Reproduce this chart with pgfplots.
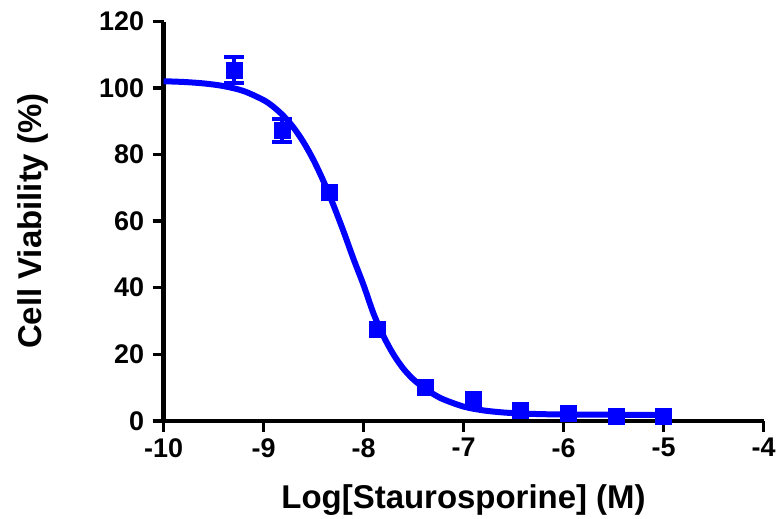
\documentclass[border=0pt]{standalone}
\usepackage{fontspec}
\setmainfont{Liberation Sans}
\usepackage{pgfplots}
\usepackage{pgfplotstable}
\pgfplotsset{compat=1.18}
\definecolor{prismblue}{RGB}{0,0,255}

% measured means with SEM (log molar concentration, 3-fold dilutions)
% SEM is only drawn where it is larger than the symbol
\pgfplotstableread{
x       y      e
-9.294  105.4  4.0
-8.817  87.3   3.4
}\measuredbars

\pgfplotstableread{
x       y
-8.340  68.6
-7.863  27.6
-7.386  10.1
-6.908  6.4
-6.431  3.1
-5.954  2.3
-5.477  1.4
-5.000  1.4
}\measured

% fitted dose-response curve
\pgfplotstableread{
x      y
-10.0  102.05
-9.8   101.83
-9.6   101.40
-9.4   100.60
-9.2   99.11
-9.0   96.39
-8.9   94.32
-8.8   91.60
-8.7   88.11
-8.6   83.71
-8.5   78.33
-8.4   71.96
-8.3   64.73
-8.2   56.90
-8.1   48.60
-8.0   40.80
-7.9   32.20
-7.8   25.40
-7.7   19.90
-7.6   15.60
-7.5   12.40
-7.4   10.00
-7.3   8.00
-7.2   6.43
-7.0   4.28
-6.8   3.12
-6.6   2.50
-6.4   2.17
-6.2   1.99
-6.0   1.90
-5.5   1.82
-5.0   1.80
}\fitted

\begin{document}
\begin{tikzpicture}
\begin{axis}[
  width=601pt, height=400pt, scale only axis,
  xmin=-10, xmax=-4, ymin=0, ymax=120,
  axis x line*=bottom, axis y line*=left,
  axis line style={line width=4.5pt},
  tick style={line width=3.5pt, black},
  tick align=outside, major tick length=11pt,
  xtick={-10,-9,-8,-7,-6,-5,-4},
  xticklabels={-10,-9,-8,-7,-6,-5,-4},
  ytick={0,20,40,60,80,100,120},
  yticklabels={0,20,40,60,80,100,120},
  ticklabel style={font=\fontsize{27}{32}\selectfont\bfseries},
  yticklabel style={xshift=-5pt, inner ysep=12pt},
  xticklabel style={yshift=-3pt, inner xsep=0.5pt},
  label style={font=\fontsize{33}{38}\selectfont\bfseries},
  xlabel={Log[Staurosporine] (M)},
  ylabel={Cell Viability (\%)},
  ylabel style={inner ysep=18pt},
  ylabel shift=29pt,
  xlabel shift=20pt,
  clip=false,
]
\addplot[prismblue, line width=6pt, smooth] table[x=x, y=y] {\fitted};
\addplot[prismblue, only marks, mark=square*, mark size=8pt,
  error bars/.cd, y dir=both, y explicit,
  error bar style={line width=4pt, prismblue},
  error mark options={rotate=90, mark size=10pt, line width=4pt, prismblue}]
  table[x=x, y=y, y error=e] {\measuredbars};
\addplot[prismblue, only marks, mark=square*, mark size=8pt]
  table[x=x, y=y] {\measured};
\end{axis}
\end{tikzpicture}
\end{document}
